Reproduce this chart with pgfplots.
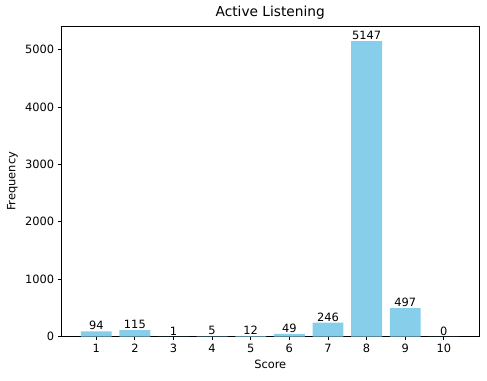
\documentclass[border=0pt]{standalone}
\usepackage{pgfplots}
\pgfplotsset{compat=1.18}
\usepackage{fontspec}
\setmainfont{DejaVu Sans}
\definecolor{skyblue}{RGB}{135,206,235}
\begin{document}
\begin{tikzpicture}
\begin{axis}[
  at={(0,0)}, anchor=south west,
  scale only axis,
  width=395pt, height=294pt,
  xmin=0.1, xmax=10.91,
  ymin=0, ymax=5409,
  xtick={1,...,10},
  ytick={0,1000,2000,3000,4000,5000},
  scaled y ticks=false,
  tick align=outside,
  xtick pos=bottom, ytick pos=left,
  major tick length=3.5pt,
  tick style={black, line width=0.8pt},
  axis line style={line width=0.8pt},
  /pgf/number format/assume math mode=true,
  /pgf/number format/1000 sep={},
  ticklabel style={font=\fontsize{10.8}{12}\selectfont},
  title={Active Listening},
  title style={font=\fontsize{13}{15}\selectfont, yshift=-3.5pt},
  xlabel={Score}, ylabel={Frequency},
  label style={font=\fontsize{10.8}{12}\selectfont},
  ybar, bar width=0.8, bar shift=0pt,
  nodes near coords,
  nodes near coords style={font=\fontsize{10.8}{12}\selectfont, black, inner sep=1pt},
]
\addplot[fill=skyblue, draw=none] coordinates {
  (1,94) (2,115) (3,1) (4,5) (5,12) (6,49) (7,246) (8,5147) (9,497) (10,0)
};
\end{axis}
\useasboundingbox (-58.2pt,-41.9pt) rectangle (402.6pt,318.6pt);
\end{tikzpicture}
\end{document}
